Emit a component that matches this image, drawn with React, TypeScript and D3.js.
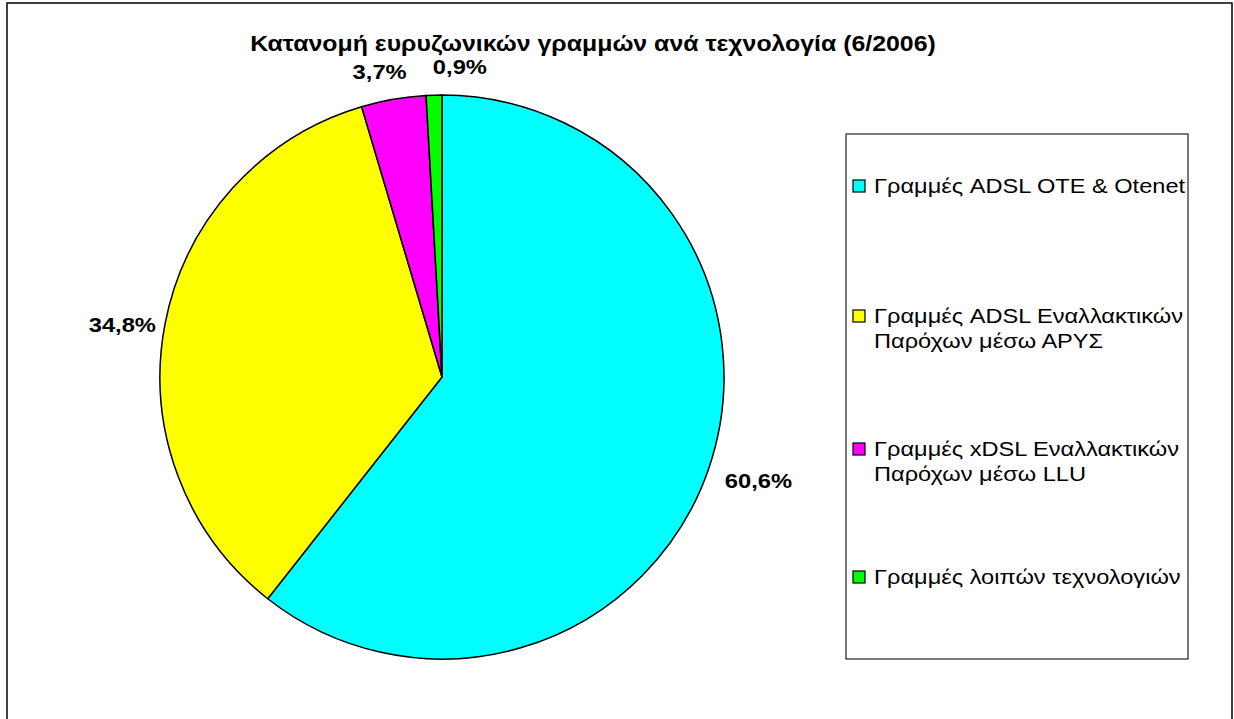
import React from "react";
import * as d3 from "d3";

const title = "Κατανομή ευρυζωνικών γραμμών ανά τεχνολογία (6/2006)";
const categories = [
  ["Γραμμές ADSL OTE & Otenet"],
  ["Γραμμές ADSL Εναλλακτικών", "Παρόχων μέσω ΑΡΥΣ"],
  ["Γραμμές xDSL Εναλλακτικών", "Παρόχων μέσω LLU"],
  ["Γραμμές λοιπών τεχνολογιών"],
];
const values = [60.6, 34.8, 3.7, 0.9];
const colors = ["#00FFFF", "#FFFF00", "#FF00FF", "#00FF00"];
const labelNudge = [
  [6, 4],
  [3, 5],
  [-7, -4],
  [27, -4],
];

const W = 1234;
const H = 719;
const FONT = "'Liberation Sans', Arial, sans-serif";
const SX = 1.13;

export default function App() {
  const cx = 442;
  const cy = 377;
  const r = 282;
  const pie = d3.pie<number>().sort(null).value((d) => d)(values);
  const arc = d3.arc<d3.PieArcDatum<number>>().innerRadius(0).outerRadius(r);
  const fmt = (v: number) => v.toFixed(1).replace(".", ",") + "%";

  const legendX = 846;
  const legendY = 134;
  const legendW = 342;
  const legendH = 525;
  const entryY = [186, 316, 449, 577];
  const lineH = 25;

  return (
    <svg
      width={W}
      height={H}
      style={{ position: "absolute", left: 0, top: 0, background: "#fff" }}
      fontFamily={FONT}
    >
      <rect x={7} y={3} width={1225} height={740} fill="#fff" stroke="#000" strokeWidth={1.5} />
      <text
        transform={`translate(593,51) scale(${SX},1)`}
        textAnchor="middle"
        fontWeight="bold"
        fontSize={22}
      >
        {title}
      </text>
      <g transform={`translate(${cx},${cy})`}>
        {pie.map((p, i) => (
          <path key={i} d={arc(p) || ""} fill={colors[i]} stroke="#000" strokeWidth={1.5} />
        ))}
      </g>
      {pie.map((p, i) => {
        const mid = (p.startAngle + p.endAngle) / 2;
        const s = Math.sin(mid);
        const c = Math.cos(mid);
        const g = 14;
        const w = fmt(values[i]).length * 13;
        const h = 20;
        const x = cx + (r + g) * s + (w / 2) * s + labelNudge[i][0];
        const y = cy - (r + g) * c - (h / 2) * c + labelNudge[i][1];
        return (
          <text
            key={i}
            transform={`translate(${x},${y}) scale(${SX},1)`}
            textAnchor="middle"
            dominantBaseline="central"
            fontWeight="bold"
            fontSize={21}
          >
            {fmt(values[i])}
          </text>
        );
      })}
      <rect x={legendX} y={legendY} width={legendW} height={legendH} fill="#fff" stroke="#222" strokeWidth={1.2} />
      {categories.map((lines, i) => (
        <g key={i}>
          <rect x={853} y={entryY[i] - 6} width={12} height={12} fill={colors[i]} stroke="#000" strokeWidth={1.2} />
          {lines.map((t, j) => (
            <text
              key={j}
              transform={`translate(874,${entryY[i] + j * lineH}) scale(1.18,1)`}
              dominantBaseline="central"
              fontSize={20}
            >
              {t}
            </text>
          ))}
        </g>
      ))}
    </svg>
  );
}
